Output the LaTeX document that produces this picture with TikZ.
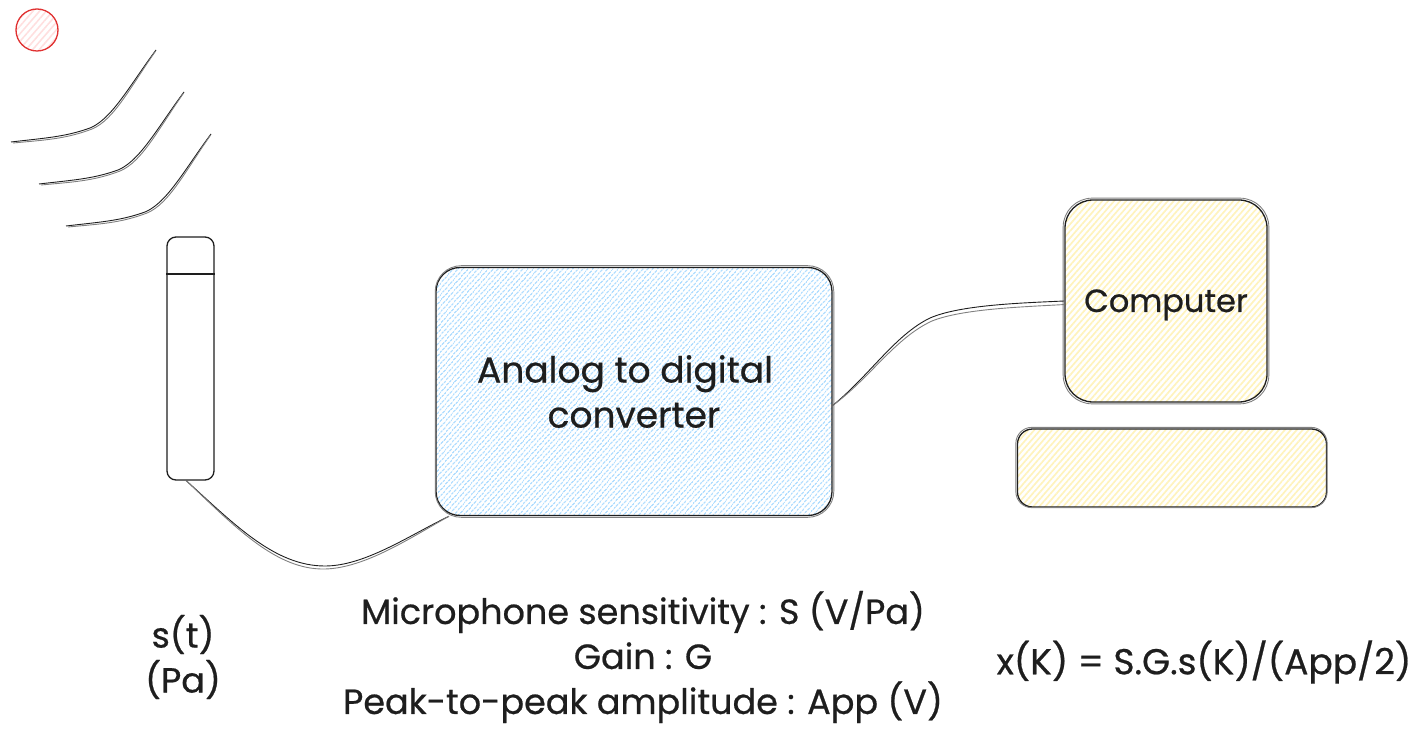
\documentclass[tikz,border=0pt]{standalone}
\usepackage{fontspec}
\setmainfont{Poppins}[FakeBold=0.6]
\usepackage{xcolor}
\usetikzlibrary{calc,patterns.meta}
\definecolor{inkblack}{HTML}{1E1E1E}
\definecolor{hatchblue}{HTML}{A5D8FF}
\definecolor{hatchyellow}{HTML}{FFEC99}
\definecolor{hatchred}{HTML}{FFC9C9}
\definecolor{sunred}{HTML}{E03131}
\tikzset{
    box/.style={draw=inkblack, line width=1.3pt, inner sep=0pt, text=inkblack, align=center},
    bluebox/.style={box, rounded corners=24pt, pattern={Lines[angle=49,distance=4pt,line width=1.6pt]}, pattern color=hatchblue!85},
    yellowbox/.style={box, pattern={Lines[angle=49,distance=4.5pt,line width=1.7pt]}, pattern color=hatchyellow!65},
    wire/.style={draw=inkblack, line width=0.9pt},
    caption/.style={text=inkblack, align=center, font=\fontsize{35}{45}\selectfont}
}

\begin{document}
\begin{tikzpicture}[x=1pt, y=-1pt]
    \useasboundingbox (0,0) rectangle (1419,735);

    % Source
    \fill[pattern={Lines[angle=49,distance=5pt,line width=1.6pt]}, pattern color=hatchred!60] (37,30) circle (21);
    \draw[sunred, line width=1.3pt] (37,30) circle (21);

    % Sound waves
    \foreach \dx/\dy in {0/0, 28/42, 55/84} {
        \begin{scope}[shift={(\dx,\dy)}]
            \draw[wire] (11,142) .. controls (45,138) and (65,137) .. (90,128) .. controls (112,119) and (130,85) .. (156,50);
            \draw[wire, gray] (13,143) .. controls (45,140) and (66,139) .. (92,129) .. controls (114,120) and (131,86) .. (155,52);
        \end{scope}
    }

    % Microphone
    \node[box, rounded corners=9pt, minimum width=47pt, minimum height=243pt] (mic) at (190.5,358.5) {};
    \draw[box] (mic.west |- 0,274) -- (mic.east |- 0,274);

    % Converter
    \node[bluebox, minimum width=396pt, minimum height=248pt, font=\fontsize{36}{44}\selectfont] (adc) at (634,391.5) {\raisebox{1pt}{Analog to digital}\kern18pt\\converter};
    \draw[wire, gray, rounded corners=26pt] ($(adc.south west)+(0,1)$) rectangle ($(adc.north east)+(1,-1)$);

    % Computer
    \node[yellowbox, rounded corners=28pt, minimum width=202pt, minimum height=202pt, font=\fontsize{32}{44}\selectfont] (computer) at (1166,301) {\raisebox{-11pt}[0pt][0pt]{Computer}};
    \draw[wire, gray, rounded corners=29pt] ($(computer.south west)+(-1,1)$) rectangle ($(computer.north east)+(1,-1)$);
    \node[yellowbox, rounded corners=15pt, minimum width=309pt, minimum height=78pt] (keyboard) at (1172,468) {};
    \draw[wire, gray, rounded corners=16pt] ($(keyboard.south west)+(-1,0)$) rectangle ($(keyboard.north east)+(0,-1)$);

    % Wires
    \draw[wire] (mic.-92) .. controls (235,525) and (275,566) .. (325,566) .. controls (365,566) and (410,535) .. (adc.214.5);
    \draw[wire, gray] (mic.-92) .. controls (237,529) and (277,570) .. (325,569) .. controls (365,568) and (410,538) .. (adc.214.5);
    \draw[wire] (adc.-4.6) .. controls (870,375) and (895,335) .. (930,318) .. controls (960,305) and (1020,303) .. (computer.west);
    \draw[wire, gray] (adc.-4.6) .. controls (870,378) and (895,338) .. (932,321) .. controls (962,309) and (1020,307) .. (computer.182.8);

    % Captions
    \node[caption] (signal) at (183,657) {s(t)\\(Pa)};
    \node[caption] (params) at (643,657) {Microphone sensitivity : S (V/Pa)\\Gain : G\\Peak-to-peak amplitude : App (V)};
    \node[caption, font=\fontsize{36}{45}\selectfont] (formula) at (1204,662) {x(K) = S.G.s(K)/(App/2)};
\end{tikzpicture}
\end{document}
